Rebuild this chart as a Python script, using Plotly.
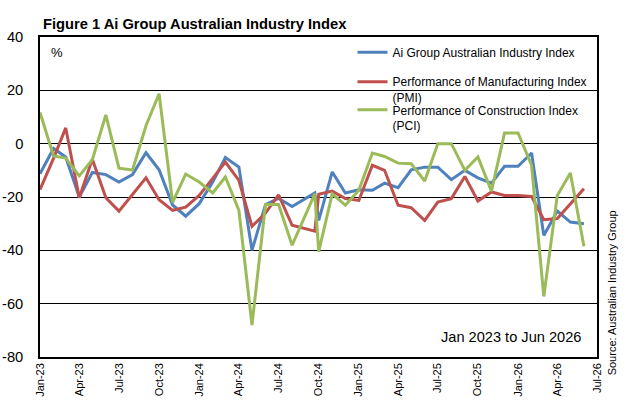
import plotly.graph_objects as go

# monthly readings, Jan 2023 to Jun 2026 (the Sep-24 point sits late in the month on the source chart)
dates = ['2023-01-01', '2023-02-01', '2023-03-01', '2023-04-01', '2023-05-01', '2023-06-01',
         '2023-07-01', '2023-08-01', '2023-09-01', '2023-10-01', '2023-11-01', '2023-12-01',
         '2024-01-01', '2024-02-01', '2024-03-01', '2024-04-01', '2024-05-01', '2024-06-01',
         '2024-07-01', '2024-08-01', '2024-09-22', '2024-10-01', '2024-11-01', '2024-12-01',
         '2025-01-01', '2025-02-01', '2025-03-01', '2025-04-01', '2025-05-01', '2025-06-01',
         '2025-07-01', '2025-08-01', '2025-09-01', '2025-10-01', '2025-11-01', '2025-12-01',
         '2026-01-01', '2026-02-01', '2026-03-01', '2026-04-01', '2026-05-01', '2026-06-01']

aii = [-11.3, -1.8, -5.0, -20.0, -10.8, -11.6, -14.4, -11.6, -3.4, -9.8, -23.0, -27.2,
       -22.5, -14.4, -5.2, -8.8, -40.0, -22.8, -20.5, -23.6, -18.5, -28.8, -10.6, -18.5,
       -17.3, -17.5, -14.8, -16.5, -9.8, -8.8, -8.8, -13.5, -10.0, -12.8, -14.8, -8.5,
       -8.5, -3.5, -34.4, -25.3, -29.4, -30.0]

pmi = [-17.2, -5.5, 5.9, -20.3, -5.8, -20.3, -25.3, -19.2, -12.8, -21.0, -25.0, -23.8,
       -19.4, -13.0, -6.9, -13.8, -31.0, -26.0, -19.2, -30.6, -32.8, -19.0, -17.8, -20.6,
       -21.3, -8.1, -10.0, -23.1, -24.0, -28.8, -21.9, -20.6, -12.3, -21.5, -18.1, -19.4,
       -19.4, -19.8, -28.5, -28.1, -22.5, -16.9]

pci = [11.7, -4.6, -5.4, -12.1, -6.0, 10.8, -9.2, -9.9, 6.7, 18.7, -22.0, -11.4,
       -14.4, -18.5, -12.5, -25.0, -68.0, -22.8, -22.8, -38.1, -18.8, -40.5, -18.8, -23.1,
       -17.5, -3.5, -4.8, -7.3, -7.5, -14.0, 0.0, 0.0, -10.0, -5.0, -17.8, 4.0,
       4.0, -8.1, -57.3, -19.4, -11.0, -38.5]

y_ticks = [40, 20, 0, -20, -40, -60, -80]
y_labels = ['40', '20', '0', '-20', '-40', '-60', '-80']

names = ['Ai Group Australian Industry Index',
         'Performance of Manufacturing Index<br>(PMI)',
         'Performance of Construction Index<br>(PCI)']
colors = ['#4F81BD', '#C0504D', '#9BBB59']
legends = ['legend', 'legend2', 'legend3']
legend_y = [0.997, 0.905, 0.817]

font = 'Liberation Sans, Arial, sans-serif'

fig = go.Figure()
for vals, name, col, lg in zip([aii, pmi, pci], names, colors, legends):
    fig.add_trace(go.Scatter(x=dates, y=vals, name=name, mode='lines', legend=lg,
                             line=dict(color=col, width=3)))

fig.update_layout(
    width=632, height=413,
    margin=dict(l=40, r=35, t=37, b=56),
    paper_bgcolor='white', plot_bgcolor='white',
    font=dict(family=font, color='black'),
    title=dict(text='<b>Figure 1 Ai Group Australian Industry Index</b>',
               x=43 / 632, xanchor='left', y=1 - 24 / 413, yanchor='middle',
               font=dict(size=14.7, family=font, color='black')),
    showlegend=True,
)
for lg, ly in zip(legends, legend_y):
    fig.update_layout({lg: dict(x=0.561, y=ly, xanchor='left', yanchor='top',
                                bgcolor='rgba(0,0,0,0)', font=dict(size=12, family=font),
                                valign='top', itemwidth=30)})

fig.update_xaxes(type='date', range=['2023-01-01', '2026-07-01'],
                 tick0='2023-01-01', dtick='M3', tickformat='%b-%y',
                 tickangle=-90, tickfont=dict(size=11), automargin=False,
                 showgrid=False, showline=True, linecolor='black', linewidth=1.5,
                 mirror=True, zeroline=False)
fig.update_yaxes(range=[-80, 40], tickvals=y_ticks, ticktext=y_labels,
                 tickfont=dict(size=14.7), automargin=False,
                 showgrid=True, gridcolor='black', gridwidth=1,
                 zeroline=True, zerolinecolor='black', zerolinewidth=1,
                 showline=True, linecolor='black', linewidth=1.5, mirror=True,
                 ticklabelstandoff=12)

fig.add_annotation(text='%', xref='paper', yref='paper', x=0.0314, y=0.951,
                   xanchor='center', yanchor='middle',
                   showarrow=False, font=dict(size=13))
fig.add_annotation(text='Jan 2023 to Jun 2026', xref='paper', yref='paper',
                   x=0.975, y=0.0616, xanchor='right', yanchor='middle',
                   showarrow=False, font=dict(size=14.6))
fig.add_annotation(text='Source: Australian Industry Group', xref='paper', yref='paper',
                   x=1.027, y=0.199, textangle=-90, xanchor='center', yanchor='middle',
                   showarrow=False, font=dict(size=11))

# drop the default body margin so the figure sits at the window's top-left corner
fig.write_html('out.html', config={'displayModeBar': False},
               post_script="document.body.style.margin='0';")
